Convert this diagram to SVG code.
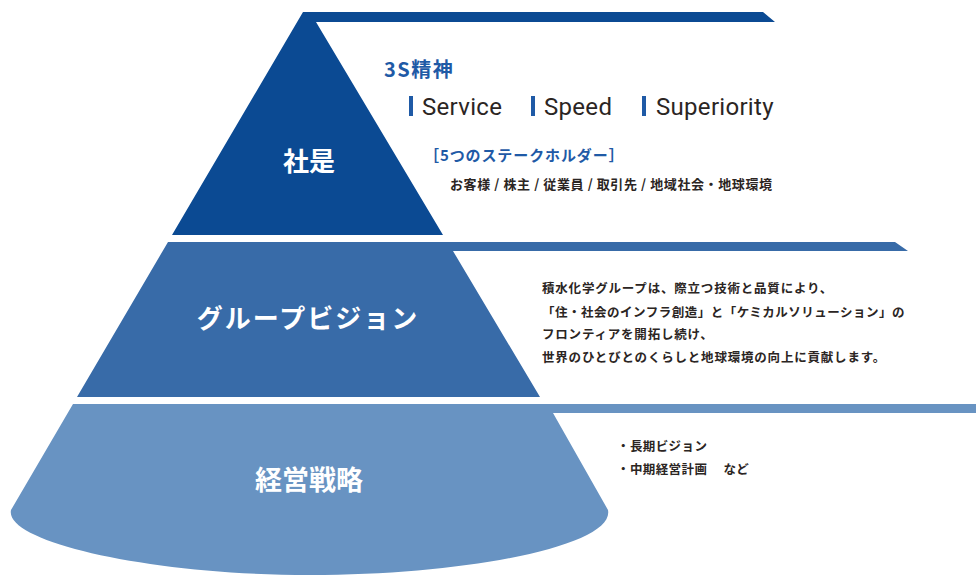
<svg xmlns="http://www.w3.org/2000/svg" width="976" height="575" viewBox="0 0 976 575">
<style>
.lbl{font-family:"Noto Sans CJK JP","Noto Sans",sans-serif;font-weight:700;fill:#ffffff;text-anchor:middle}
.body{font-family:"Noto Sans CJK JP","Noto Sans",sans-serif;font-weight:700;fill:#2b2523}
.blue{font-family:"Noto Sans CJK JP","Noto Sans",sans-serif;font-weight:700;fill:#1f5aa6}
.en{font-family:Roboto,"Noto Sans",sans-serif;font-weight:400;fill:#2b2523;font-size:24px;letter-spacing:0.3px}
.bar{fill:#1f5aa6}
</style>
<rect width="976" height="575" fill="#ffffff"/>
<g id="shahe">
<path d="M303,12 L763,12 L775,22 L316,22 L443,235 L172,235 Z" fill="#0b4a93"/>
<text class="lbl" x="309" y="171" font-size="26">社是</text>
</g>
<g id="group-vision">
<path d="M168,242 L895,242 L908,251 L453,251 L540,397 L77,397 Z" fill="#386ba8"/>
<text class="lbl" x="308" y="328" font-size="26" letter-spacing="2">グループビジョン</text>
</g>
<g id="keiei-senryaku">
<path d="M73,404 L976,404 L976,413 L553,413 L608,510 C615,545 470,575 310,575 C150,575 4,542 11,510 Z" fill="#6893c2"/>
<text class="lbl" x="309" y="490" font-size="27">経営戦略</text>
</g>
<g id="shahe-text">
<text class="blue" x="384" y="77" font-size="20" letter-spacing="1.5">3S精神</text>
<rect class="bar" x="409" y="96" width="4" height="20"/>
<text class="en" x="422" y="115">Service</text>
<rect class="bar" x="531" y="96" width="4" height="20"/>
<text class="en" x="544" y="115">Speed</text>
<rect class="bar" x="642" y="96" width="4" height="20"/>
<text class="en" x="656" y="115">Superiority</text>
<text class="blue" x="424" y="161" font-size="15" fill="#2a64b0" letter-spacing="0.9">［5つのステークホルダー］</text>
<text class="body" x="450" y="189" font-size="13" textLength="322" lengthAdjust="spacing">お客様 / 株主 / 従業員 / 取引先 / 地域社会・地球環境</text>
</g>
<g id="vision-text" font-size="12.5">
<text class="body" x="542" y="293" letter-spacing="0.8">積水化学グループは、際立つ技術と品質により、</text>
<text class="body" x="542" y="317" letter-spacing="0.5">「住・社会のインフラ創造」と「ケミカルソリューション」の</text>
<text class="body" x="542" y="339" letter-spacing="0.8">フロンティアを開拓し続け、</text>
<text class="body" x="542" y="362" letter-spacing="0.8">世界のひとびとのくらしと地球環境の向上に貢献します。</text>
</g>
<g id="senryaku-text" font-size="12.5">
<text class="body" x="617" y="451" letter-spacing="0.4">・長期ビジョン</text>
<text class="body" x="617" y="474" letter-spacing="0.4">・中期経営計画　 など</text>
</g>
</svg>
